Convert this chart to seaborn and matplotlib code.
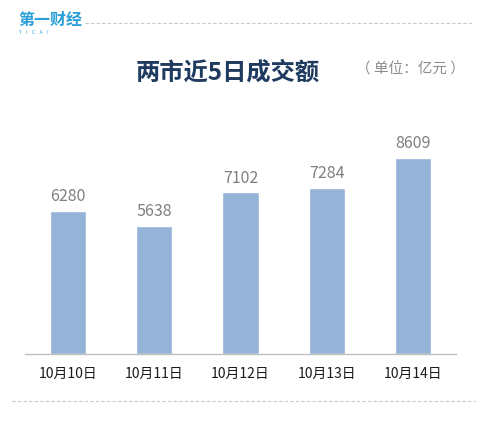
# -*- coding: utf-8 -*-
import matplotlib
matplotlib.use('Agg')
import matplotlib.pyplot as plt
import seaborn as sns
import pandas as pd

# 数据
dates = ['10月10日', '10月11日', '10月12日', '10月13日', '10月14日']
turnover = [6280, 5638, 7102, 7284, 8609]

sns.set_theme(style='white')
plt.rcParams['font.family'] = ['Noto Sans CJK SC', 'DejaVu Sans']

df = pd.DataFrame({'date': dates, 'turnover': turnover})

fig = plt.figure(figsize=(4.91, 4.24), dpi=100)
ax = fig.add_axes([25 / 491, 70 / 424, 431 / 491, 227.7 / 424])

sns.barplot(data=df, x='date', y='turnover', color='#95b3d7', saturation=1,
            width=0.42, ax=ax)

for i, v in enumerate(turnover):
    ax.text(i, v + 250, str(v), ha='center', va='bottom',
            fontsize=11.5, color='#7f7f7f')

ax.set_xlim(-0.5, 4.5)
ax.set_ylim(0, 10000)
ax.set_xlabel('')
ax.set_ylabel('')
ax.set_yticks([])
ax.tick_params(axis='x', length=0, pad=9, labelsize=10, colors='#1a1a1a')
for s in ['top', 'right', 'left']:
    ax.spines[s].set_visible(False)
ax.spines['bottom'].set_color('#bfbfbf')
ax.spines['bottom'].set_linewidth(1)

# 标题
fig.text(228 / 491, 1 - 73 / 424, '两市近5日成交额', ha='center', va='center',
         fontsize=17.5, fontweight='bold', color='#1f3a5f')
fig.text(410 / 491, 1 - 70 / 424, '（ 单位：亿元 ）', ha='center', va='center',
         fontsize=10.5, color='#8c8c8c')

# logo
fig.text(18 / 491, 1 - 20 / 424, '第一财经', ha='left', va='center',
         fontsize=11.5, fontweight='bold', color='#2a9fd8')
fig.text(19 / 491, 1 - 32 / 424, 'Y    I    C    A    I', ha='left', va='center',
         fontsize=3.5, color='#2a9fd8')

# 虚线
fig.add_artist(plt.Line2D([85 / 491, 473 / 491], [1 - 23 / 424, 1 - 23 / 424],
                          ls=(0, (3, 2)), color='#c8c8c8', lw=0.8))
fig.add_artist(plt.Line2D([12 / 491, 475 / 491], [1 - 401 / 424, 1 - 401 / 424],
                          ls=(0, (3, 2)), color='#c8c8c8', lw=0.8))

plt.savefig('out.png', dpi=100)
